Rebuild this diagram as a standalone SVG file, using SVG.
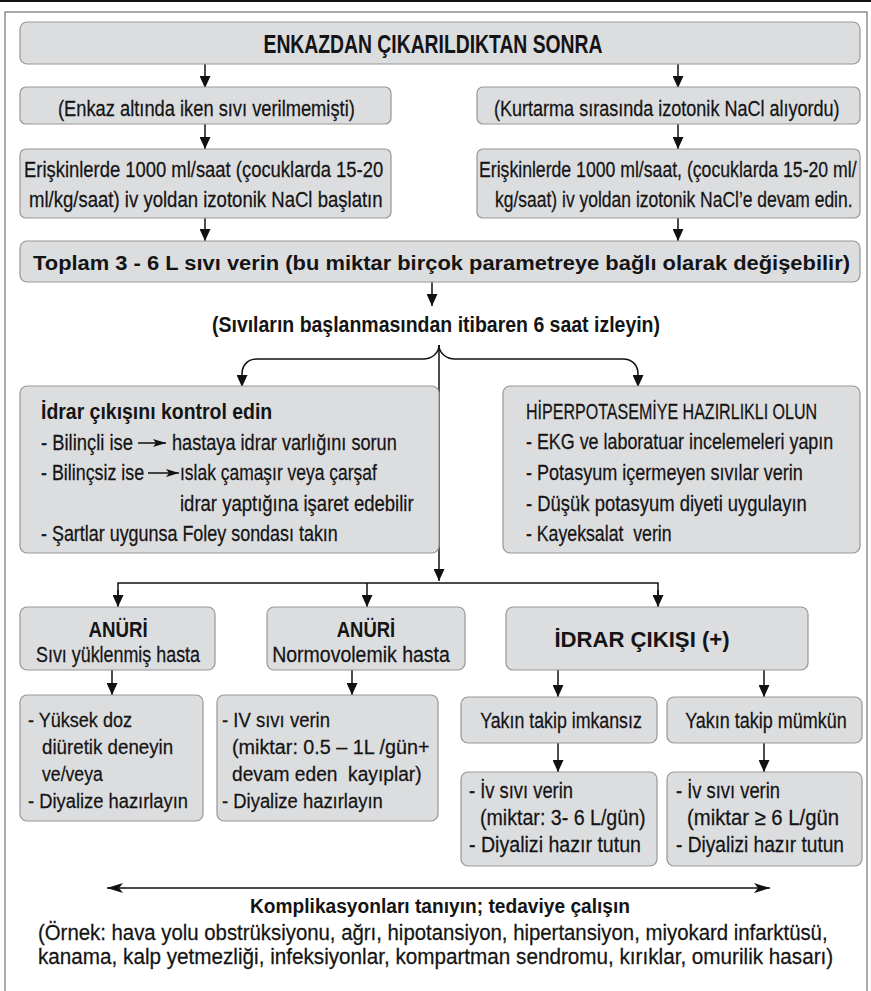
<svg xmlns="http://www.w3.org/2000/svg" width="871" height="991" viewBox="0 0 871 991">
<style>
.bx{fill:#dcdddf;stroke:#979797;stroke-width:1.2}
.t{font-family:"Liberation Sans",Arial,sans-serif;font-size:22px;fill:#141414;stroke:#141414;stroke-width:0.25}
.s{font-size:21px}
.bd{font-weight:bold;stroke-width:0}
.c{text-anchor:middle}
.pre{white-space:pre}
.ln{fill:none;stroke:#111;stroke-width:1.5}
</style>
<defs>
<marker id="ah" viewBox="0 0 12 11" refX="12" refY="5.5" markerWidth="12" markerHeight="11" markerUnits="userSpaceOnUse" orient="auto">
<path d="M0,0 L12,5.5 L0,11 z" fill="#111"/>
</marker>
<marker id="sw" viewBox="0 0 16 10" refX="16" refY="5" markerWidth="16" markerHeight="10" markerUnits="userSpaceOnUse" orient="auto-start-reverse">
<path d="M0,0 L16,5 L0,10 L4,5 z" fill="#111"/>
</marker>
<marker id="sm" viewBox="0 0 13 8" refX="13" refY="4" markerWidth="13" markerHeight="8" markerUnits="userSpaceOnUse" orient="auto">
<path d="M0,0 L13,4 L0,8 L3,4 z" fill="#111"/>
</marker>
</defs>

<line x1="0" y1="1" x2="871" y2="1" stroke="#111" stroke-width="2"/>
<rect x="5" y="12" width="862" height="1000" fill="none" stroke="#8f8f8f" stroke-width="1.5"/>

<g id="connectors" class="ln">
<line x1="205" y1="64" x2="205" y2="88" marker-end="url(#ah)"/>
<line x1="678" y1="64" x2="678" y2="88" marker-end="url(#ah)"/>
<line x1="205" y1="124" x2="205" y2="149" marker-end="url(#ah)"/>
<line x1="678" y1="124" x2="678" y2="149" marker-end="url(#ah)"/>
<line x1="205" y1="218" x2="205" y2="241" marker-end="url(#ah)"/>
<line x1="678" y1="218" x2="678" y2="241" marker-end="url(#ah)"/>
<line x1="432" y1="282" x2="432" y2="306" marker-end="url(#ah)"/>
<path d="M439,345 C439,353 432,359 423,359 L257,359 C248,359 242,365 242,374 L242,387" marker-end="url(#ah)"/>
<path d="M439,345 C439,353 446,359 455,359 L623,359 C632,359 638,365 638,374 L638,387" marker-end="url(#ah)"/>
<line x1="439" y1="345" x2="439" y2="581" marker-end="url(#ah)"/>
<polyline points="118,606 118,583 658,583 658,606" fill="none"/>
<line x1="118" y1="590" x2="118" y2="607" marker-end="url(#ah)"/>
<line x1="367" y1="583" x2="367" y2="607" marker-end="url(#ah)"/>
<line x1="658" y1="590" x2="658" y2="607" marker-end="url(#ah)"/>
<line x1="112" y1="670" x2="112" y2="695" marker-end="url(#ah)"/>
<line x1="352" y1="670" x2="352" y2="695" marker-end="url(#ah)"/>
<line x1="558" y1="670" x2="558" y2="697" marker-end="url(#ah)"/>
<line x1="764" y1="670" x2="764" y2="697" marker-end="url(#ah)"/>
<line x1="558" y1="743" x2="558" y2="772" marker-end="url(#ah)"/>
<line x1="764" y1="743" x2="764" y2="772" marker-end="url(#ah)"/>
<line x1="107" y1="888" x2="770" y2="888" marker-start="url(#sw)" marker-end="url(#sw)"/>
</g>

<g id="n-top">
<rect class="bx" x="20" y="22" width="840" height="42" rx="7"/>
<text class="t bd c" transform="matrix(0.75 0 0 1 433 53)" style="font-size:25px" textLength="452" lengthAdjust="spacingAndGlyphs">ENKAZDAN ÇIKARILDIKTAN SONRA</text>
</g>
<g id="n-enkaz">
<rect class="bx" x="20" y="87" width="371" height="37" rx="6"/>
<text class="t" transform="matrix(0.8 0 0 1 58 116)" textLength="371" lengthAdjust="spacingAndGlyphs">(Enkaz altında iken sıvı verilmemişti)</text>
</g>
<g id="n-kurtarma">
<rect class="bx" x="477" y="87" width="383" height="37" rx="6"/>
<text class="t" transform="matrix(0.8 0 0 1 494 116)" textLength="432" lengthAdjust="spacingAndGlyphs">(Kurtarma sırasında izotonik NaCl alıyordu)</text>
</g>
<g id="n-baslat">
<rect class="bx" x="20" y="149" width="371" height="69" rx="6"/>
<text class="t" transform="matrix(0.8 0 0 1 24 177)" textLength="449" lengthAdjust="spacingAndGlyphs">Erişkinlerde 1000 ml/saat (çocuklarda 15-20</text>
<text class="t" transform="matrix(0.8 0 0 1 29 207)" textLength="442" lengthAdjust="spacingAndGlyphs">ml/kg/saat) iv yoldan izotonik NaCl başlatın</text>
</g>
<g id="n-devam">
<rect class="bx" x="477" y="149" width="383" height="69" rx="6"/>
<text class="t" transform="matrix(0.8 0 0 1 479 177)" textLength="472" lengthAdjust="spacingAndGlyphs">Erişkinlerde 1000 ml/saat, (çocuklarda 15-20 ml/</text>
<text class="t" transform="matrix(0.8 0 0 1 495 207)" textLength="447" lengthAdjust="spacingAndGlyphs">kg/saat) iv yoldan izotonik NaCl’e devam edin.</text>
</g>
<g id="n-toplam">
<rect class="bx" x="20" y="241" width="840" height="41" rx="7"/>
<text class="t bd" transform="matrix(0.92 0 0 1 33 270)" style="font-size:20.5px" textLength="888" lengthAdjust="spacingAndGlyphs">Toplam 3 - 6 L sıvı verin (bu miktar birçok parametreye bağlı olarak değişebilir)</text>
</g>
<g id="n-izle">
<text class="t bd" transform="matrix(0.8 0 0 1 212 332)" textLength="560" lengthAdjust="spacingAndGlyphs">(Sıvıların başlanmasından itibaren 6 saat izleyin)</text>
</g>
<g id="n-idrar">
<rect class="bx" x="20" y="386" width="419" height="167" rx="7"/>
<text class="t bd" transform="matrix(0.8 0 0 1 41 419)" textLength="289" lengthAdjust="spacingAndGlyphs">İdrar çıkışını kontrol edin</text>
<text class="t" transform="matrix(0.8 0 0 1 41 450)" textLength="115" lengthAdjust="spacingAndGlyphs">- Bilinçli ise</text>
<line class="ln" x1="138" y1="443" x2="166" y2="443" marker-end="url(#sm)"/>
<text class="t" transform="matrix(0.8 0 0 1 172 450)" textLength="281" lengthAdjust="spacingAndGlyphs">hastaya idrar varlığını sorun</text>
<text class="t" transform="matrix(0.8 0 0 1 41 480)" textLength="129" lengthAdjust="spacingAndGlyphs">- Bilinçsiz ise</text>
<line class="ln" x1="148" y1="473" x2="179" y2="473" marker-end="url(#sm)"/>
<text class="t" transform="matrix(0.8 0 0 1 180 480)" textLength="246" lengthAdjust="spacingAndGlyphs">ıslak çamaşır veya çarşaf</text>
<text class="t" transform="matrix(0.8 0 0 1 180 511)" textLength="292" lengthAdjust="spacingAndGlyphs">idrar yaptığına işaret edebilir</text>
<text class="t" transform="matrix(0.8 0 0 1 41 541)" textLength="371" lengthAdjust="spacingAndGlyphs">- Şartlar uygunsa Foley sondası takın</text>
</g>
<g id="n-hiper">
<rect class="bx" x="503" y="386" width="357" height="167" rx="7"/>
<text class="t" transform="matrix(0.8 0 0 1 526 419)" textLength="364" lengthAdjust="spacingAndGlyphs">HİPERPOTASEMİYE HAZIRLIKLI OLUN</text>
<text class="t" transform="matrix(0.8 0 0 1 526 449)" textLength="384" lengthAdjust="spacingAndGlyphs">- EKG ve laboratuar incelemeleri yapın</text>
<text class="t" transform="matrix(0.8 0 0 1 526 480)" textLength="346" lengthAdjust="spacingAndGlyphs">- Potasyum içermeyen sıvılar verin</text>
<text class="t" transform="matrix(0.8 0 0 1 526 511)" textLength="351" lengthAdjust="spacingAndGlyphs">- Düşük potasyum diyeti uygulayın</text>
<text class="t pre" transform="matrix(0.8 0 0 1 526 541)" textLength="182" lengthAdjust="spacingAndGlyphs">- Kayeksalat  verin</text>
</g>
<g id="n-anuri1">
<rect class="bx" x="20" y="607" width="195" height="63" rx="7"/>
<text class="t bd c" transform="matrix(0.8 0 0 1 118 637)" textLength="74" lengthAdjust="spacingAndGlyphs">ANÜRİ</text>
<text class="t c" transform="matrix(0.8 0 0 1 118 662)" textLength="205" lengthAdjust="spacingAndGlyphs">Sıvı yüklenmiş hasta</text>
</g>
<g id="n-anuri2">
<rect class="bx" x="267" y="607" width="198" height="63" rx="7"/>
<text class="t bd c" transform="matrix(0.8 0 0 1 366 637)" textLength="73" lengthAdjust="spacingAndGlyphs">ANÜRİ</text>
<text class="t c" transform="matrix(0.8 0 0 1 361 662)" textLength="222" lengthAdjust="spacingAndGlyphs">Normovolemik hasta</text>
</g>
<g id="n-idrarplus">
<rect class="bx" x="506" y="607" width="302" height="63" rx="7"/>
<text class="t bd c" transform="matrix(0.8 0 0 1 642 647)" textLength="219" lengthAdjust="spacingAndGlyphs">İDRAR ÇIKIŞI (+)</text>
</g>
<g id="n-diuretik">
<rect class="bx" x="20" y="695" width="183" height="126" rx="7"/>
<text class="t s" transform="matrix(0.8 0 0 1 28 727)" textLength="130" lengthAdjust="spacingAndGlyphs">- Yüksek doz</text>
<text class="t s" transform="matrix(0.8 0 0 1 42 754)" textLength="164" lengthAdjust="spacingAndGlyphs">diüretik deneyin</text>
<text class="t s" transform="matrix(0.8 0 0 1 42 781)" textLength="76" lengthAdjust="spacingAndGlyphs">ve/veya</text>
<text class="t s" transform="matrix(0.8 0 0 1 28 808)" textLength="200" lengthAdjust="spacingAndGlyphs">- Diyalize hazırlayın</text>
</g>
<g id="n-ivsivi">
<rect class="bx" x="217" y="695" width="221" height="126" rx="7"/>
<text class="t s" transform="matrix(0.8 0 0 1 222 727)" textLength="135" lengthAdjust="spacingAndGlyphs">- IV sıvı verin</text>
<text class="t s" transform="matrix(0.8 0 0 1 232 754)" textLength="247" lengthAdjust="spacingAndGlyphs">(miktar: 0.5 – 1L /gün+</text>
<text class="t s pre" transform="matrix(0.8 0 0 1 232 781)" textLength="237" lengthAdjust="spacingAndGlyphs">devam eden  kayıplar)</text>
<text class="t s" transform="matrix(0.8 0 0 1 222 808)" textLength="201" lengthAdjust="spacingAndGlyphs">- Diyalize hazırlayın</text>
</g>
<g id="n-imkansiz">
<rect class="bx" x="461" y="697" width="196" height="46" rx="7"/>
<text class="t c" transform="matrix(0.8 0 0 1 561 728)" textLength="202" lengthAdjust="spacingAndGlyphs">Yakın takip imkansız</text>
</g>
<g id="n-mumkun">
<rect class="bx" x="667" y="697" width="195" height="46" rx="7"/>
<text class="t c" transform="matrix(0.8 0 0 1 766 728)" textLength="202" lengthAdjust="spacingAndGlyphs">Yakın takip mümkün</text>
</g>
<g id="n-iv1">
<rect class="bx" x="461" y="772" width="196" height="94" rx="7"/>
<text class="t" transform="matrix(0.8 0 0 1 469 798)" textLength="130" lengthAdjust="spacingAndGlyphs">- İv sıvı verin</text>
<text class="t" transform="matrix(0.8 0 0 1 480 825)" textLength="207" lengthAdjust="spacingAndGlyphs">(miktar: 3- 6 L/gün)</text>
<text class="t" transform="matrix(0.8 0 0 1 469 852)" textLength="215" lengthAdjust="spacingAndGlyphs">- Diyalizi hazır tutun</text>
</g>
<g id="n-iv2">
<rect class="bx" x="667" y="772" width="195" height="94" rx="7"/>
<text class="t" transform="matrix(0.8 0 0 1 676 798)" textLength="130" lengthAdjust="spacingAndGlyphs">- İv sıvı verin</text>
<text class="t" transform="matrix(0.8 0 0 1 687 825)" textLength="190" lengthAdjust="spacingAndGlyphs">(miktar ≥ 6 L/gün</text>
<text class="t" transform="matrix(0.8 0 0 1 676 852)" textLength="210" lengthAdjust="spacingAndGlyphs">- Diyalizi hazır tutun</text>
</g>
<g id="n-komplikasyon">
<text class="t bd c" transform="matrix(0.8 0 0 1 440 913)" style="font-size:21px" textLength="475" lengthAdjust="spacingAndGlyphs">Komplikasyonları tanıyın; tedaviye çalışın</text>
<text class="t" transform="matrix(0.8 0 0 1 38 940)" textLength="987" lengthAdjust="spacingAndGlyphs">(Örnek: hava yolu obstrüksiyonu, ağrı, hipotansiyon, hipertansiyon, miyokard infarktüsü,</text>
<text class="t" transform="matrix(0.8 0 0 1 38 964)" textLength="994" lengthAdjust="spacingAndGlyphs">kanama, kalp yetmezliği, infeksiyonlar, kompartman sendromu, kırıklar, omurilik hasarı)</text>
</g>
</svg>
